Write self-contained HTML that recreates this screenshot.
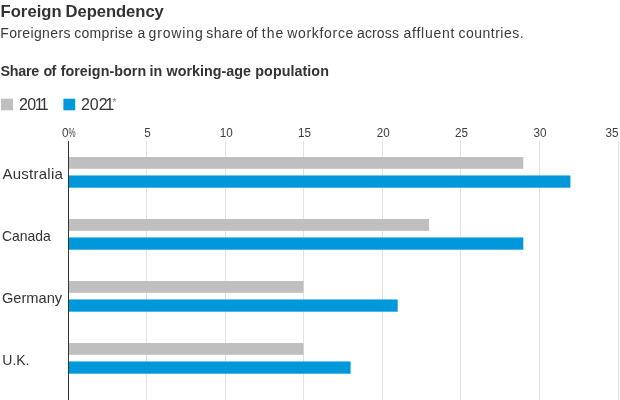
<!DOCTYPE html>
<html><head><meta charset="utf-8">
<style>
html,body{margin:0;padding:0;background:#fff;}
body{width:620px;height:400px;overflow:hidden;}
svg{display:block;}
text{font-family:"Liberation Sans",sans-serif;}
</style></head><body>
<svg width="620" height="400" viewBox="0 0 620 400">
<rect width="620" height="400" fill="#fff"/>
<text id="t1" y="17.3" font-size="16.6" font-weight="bold" fill="#333"><tspan x="0.45" letter-spacing="0.07">Foreign</tspan> <tspan x="65.5" letter-spacing="-0.04">Dependency</tspan></text>
<text id="t2" y="37.6" font-size="14" fill="#3a3a3a"><tspan x="0.25" letter-spacing="0.36">Foreigners</tspan> <tspan x="74.2" letter-spacing="0.31">comprise</tspan> <tspan x="137.6" letter-spacing="0">a</tspan> <tspan x="148.5" letter-spacing="0.87">growing</tspan> <tspan x="206.3" letter-spacing="0.38">share</tspan> <tspan x="246.3" letter-spacing="-0.3">of</tspan> <tspan x="261.85" letter-spacing="1.0">the</tspan> <tspan x="287.2" letter-spacing="0.69">workforce</tspan> <tspan x="357.0" letter-spacing="0.13">across</tspan> <tspan x="403.5" letter-spacing="0.74">affluent</tspan> <tspan x="458.5" letter-spacing="0.48">countries.</tspan></text>
<text id="t3" y="75.6" font-size="14.3" font-weight="bold" fill="#333"><tspan x="0.5" letter-spacing="-0.25">Share</tspan> <tspan x="43.4" letter-spacing="-0.5">of</tspan> <tspan x="60.65" letter-spacing="0.05">foreign-born</tspan> <tspan x="149.6" letter-spacing="-0.1">in</tspan> <tspan x="166.6" letter-spacing="0.02">working-age</tspan> <tspan x="255.3" letter-spacing="0.06">population</tspan></text>
<rect x="1" y="98.7" width="12" height="11.6" fill="#bfbfbf"/>
<text id="l1" x="19" y="109.9" font-size="16" fill="#333">2<tspan dx="-0.6">0</tspan><tspan dx="-1.5">1</tspan><tspan dx="-2.6">1</tspan></text>
<rect x="63.4" y="98.7" width="11.8" height="11.6" fill="#0098db"/>
<text id="l2" x="81" y="109.9" font-size="16" fill="#333">2<tspan dx="-0.2">0</tspan><tspan dx="0.2">2</tspan><tspan dx="-2.4">1</tspan></text>
<text id="l3" x="112.5" y="106.3" font-size="10" fill="#808080">*</text>
<g stroke="#e2e2e2" stroke-width="1">
<line x1="146.5" y1="141" x2="146.5" y2="400"/>
<line x1="225.5" y1="141" x2="225.5" y2="400"/>
<line x1="303.5" y1="141" x2="303.5" y2="400"/>
<line x1="382.5" y1="141" x2="382.5" y2="400"/>
<line x1="460.5" y1="141" x2="460.5" y2="400"/>
<line x1="539.5" y1="141" x2="539.5" y2="400"/>
<line x1="618.5" y1="141" x2="618.5" y2="400"/>
</g>
<g font-size="13" fill="#3d3d3d" text-anchor="middle">
<text transform="translate(65.2,137.4) scale(0.9,1)">0</text>
<text transform="translate(68.4,137.4) scale(0.78,1.3)" font-size="10.2" text-anchor="start">%</text>
<text transform="translate(147.4,137.4) scale(0.9,1)">5</text>
<text transform="translate(226.3,137.4) scale(0.9,1)">10</text>
<text transform="translate(304.6,137.4) scale(0.9,1)">15</text>
<text transform="translate(383.3,137.4) scale(0.9,1)">20</text>
<text transform="translate(461.5,137.4) scale(0.9,1)">25</text>
<text transform="translate(540.1,137.4) scale(0.9,1)">30</text>
<text transform="translate(612.1,137.4) scale(0.9,1)">35</text>
</g>
<g fill="#bfbfbf">
<rect x="69" y="157" width="454.3" height="11.8"/>
<rect x="69" y="219" width="360.1" height="11.8"/>
<rect x="69" y="281" width="234.5" height="11.8"/>
<rect x="69" y="343" width="234.5" height="11.8"/>
</g>
<g fill="#0098db">
<rect x="69" y="175.45" width="501.4" height="12.25"/>
<rect x="69" y="237.45" width="454.3" height="12.25"/>
<rect x="69" y="299.45" width="328.7" height="12.25"/>
<rect x="69" y="361.45" width="281.6" height="12.25"/>
</g>
<line x1="68.5" y1="141" x2="68.5" y2="400" stroke="#333" stroke-width="1"/>
<g font-size="15" fill="#333">
<text id="c1" x="2.5" y="178.8" textLength="60.4" lengthAdjust="spacing">Australia</text>
<text id="c2" x="1.9" y="240.8" textLength="49" lengthAdjust="spacingAndGlyphs">Canada</text>
<text id="c3" x="1.9" y="302.8" textLength="60.3" lengthAdjust="spacingAndGlyphs">Germany</text>
<text id="c4" x="2.3" y="364.8" textLength="27.2" lengthAdjust="spacingAndGlyphs">U.K.</text>
</g>
</svg>
</body></html>
